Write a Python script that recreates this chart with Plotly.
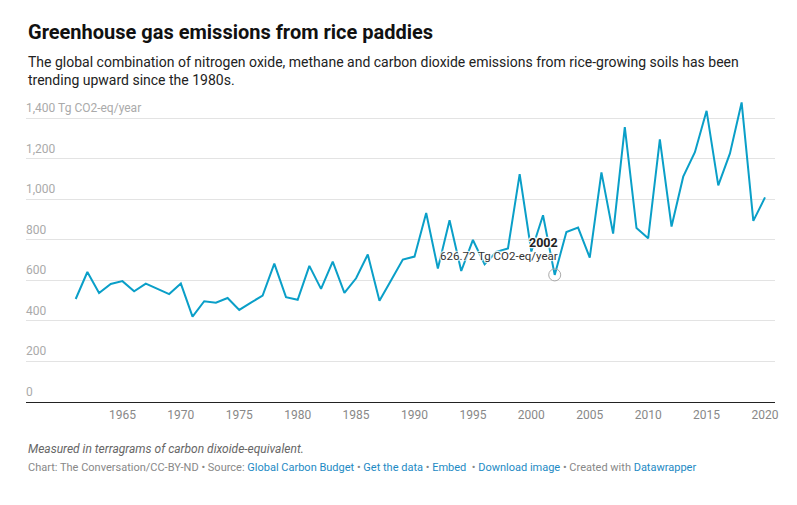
import plotly.graph_objects as go

years = list(range(1961, 2021))
emissions = [
    508, 641, 537, 582, 596, 546, 584, 558, 532, 584,
    421, 497, 490, 513, 454, 490, 525, 682, 517, 504,
    671, 558, 692, 538, 610, 727, 499, 600, 702, 717,
    932, 658, 896, 646, 799, 679, 740, 757, 1124, 742,
    921, 626.72, 838, 860, 712, 1132, 830, 1355, 858, 807,
    1295, 865, 1111, 1232, 1436, 1068, 1226, 1477, 893, 1009,
]
y_ticks = [0, 200, 400, 600, 800, 1000, 1200, 1400]
y_tick_labels = ["0", "200", "400", "600", "800", "1,000", "1,200", "1,400 Tg CO2-eq/year"]
x_ticks = [1965, 1970, 1975, 1980, 1985, 1990, 1995, 2000, 2005, 2010, 2015, 2020]
highlight_year = 2002
highlight_value = 626.72

W, H = 797, 505
ML, MR, MT = 26, 22, 95
PLOT_BOTTOM = 402.3
MB = H - PLOT_BOTTOM
PH = PLOT_BOTTOM - MT

def py(pix):
    return (PLOT_BOTTOM - pix) / PH

FONT = "Roboto"
LINE = "#0a9fc8"

fig = go.Figure()
fig.add_trace(go.Scatter(
    x=years, y=emissions, mode="lines",
    line=dict(color=LINE, width=2), hoverinfo="skip", showlegend=False,
))
fig.add_trace(go.Scatter(
    x=[highlight_year], y=[highlight_value], mode="markers",
    marker=dict(symbol="circle-open", size=12, color="#aaaaaa", line=dict(width=1)),
    hoverinfo="skip", showlegend=False,
))

halo = "1px 1px 1px #fff, -1px -1px 1px #fff, 1px -1px 1px #fff, -1px 1px 1px #fff, 0 0 3px #fff"
annotations = [
    dict(x=highlight_year, y=highlight_value, xref="x", yref="y", text="<b>2002</b>",
         showarrow=False, xanchor="right", yanchor="middle", xshift=5, yshift=32,
         font=dict(family=FONT, size=12.5, color="#222", shadow=halo)),
    dict(x=highlight_year, y=highlight_value, xref="x", yref="y",
         text=f"{highlight_value:.2f} Tg CO2-eq/year",
         showarrow=False, xanchor="right", yanchor="middle", xshift=5, yshift=19,
         font=dict(family=FONT, size=11.5, color="#333", shadow=halo)),
    dict(x=0, y=py(32), xref="paper", yref="paper", xanchor="left", yanchor="middle",
         text="<b>Greenhouse gas emissions from rice paddies</b>", showarrow=False,
         font=dict(family=FONT, size=20, color="#111")),
    dict(x=0, y=py(52), xref="paper", yref="paper", xanchor="left", yanchor="top", align="left",
         text="The global combination of nitrogen oxide, methane and carbon dioxide emissions from rice-growing soils has been<br>trending upward since the 1980s.",
         showarrow=False, font=dict(family=FONT, size=14, color="#222")),
    dict(x=0, y=py(449), xref="paper", yref="paper", xanchor="left", yanchor="middle",
         text="<i>Measured in terragrams of carbon dixoide-equivalent.</i>", showarrow=False,
         font=dict(family=FONT, size=12, color="#666")),
    dict(x=0, y=py(468), xref="paper", yref="paper", xanchor="left", yanchor="middle",
         text=("Chart: The Conversation/CC-BY-ND • Source: <span style='color:#1d8ac4'>Global Carbon Budget</span>"
               " • <span style='color:#1d8ac4'>Get the data</span> • <span style='color:#1d8ac4'>Embed</span>"
               "  • <span style='color:#1d8ac4'>Download image</span> • Created with "
               "<span style='color:#1d8ac4'>Datawrapper</span>"),
         showarrow=False, font=dict(family=FONT, size=11, color="#888")),
]
for v, lab in zip(y_ticks, y_tick_labels):
    annotations.append(dict(
        x=0, y=v, xref="paper", yref="y", text=lab, showarrow=False,
        xanchor="left", yanchor="bottom", xshift=-2, yshift=1,
        font=dict(family=FONT, size=12, color="#aaa"),
    ))

px_per_year = 11.683
x_left = 1961 - (75.7 - ML) / px_per_year
x_right = 2020 + ((W - MR) - 765) / px_per_year
units_per_px = 200 / 40.6
y_top = PH * units_per_px

fig.update_layout(
    width=W, height=H, margin=dict(l=ML, r=MR, t=MT, b=MB),
    paper_bgcolor="white", plot_bgcolor="white",
    font=dict(family=FONT),
    annotations=annotations,
    xaxis=dict(range=[x_left, x_right], tickvals=x_ticks, showgrid=False, zeroline=False,
               showline=False, ticks="", tickfont=dict(family=FONT, size=12, color="#888"),
               ticklabelstandoff=4, fixedrange=True),
    yaxis=dict(range=[0, y_top], tickvals=y_ticks, showticklabels=False,
               showgrid=True, gridcolor="#e3e3e3", gridwidth=1, zeroline=True,
               zerolinecolor="#222", zerolinewidth=1.3, showline=False, ticks="",
               fixedrange=True),
)

fig.write_html("out.html")
